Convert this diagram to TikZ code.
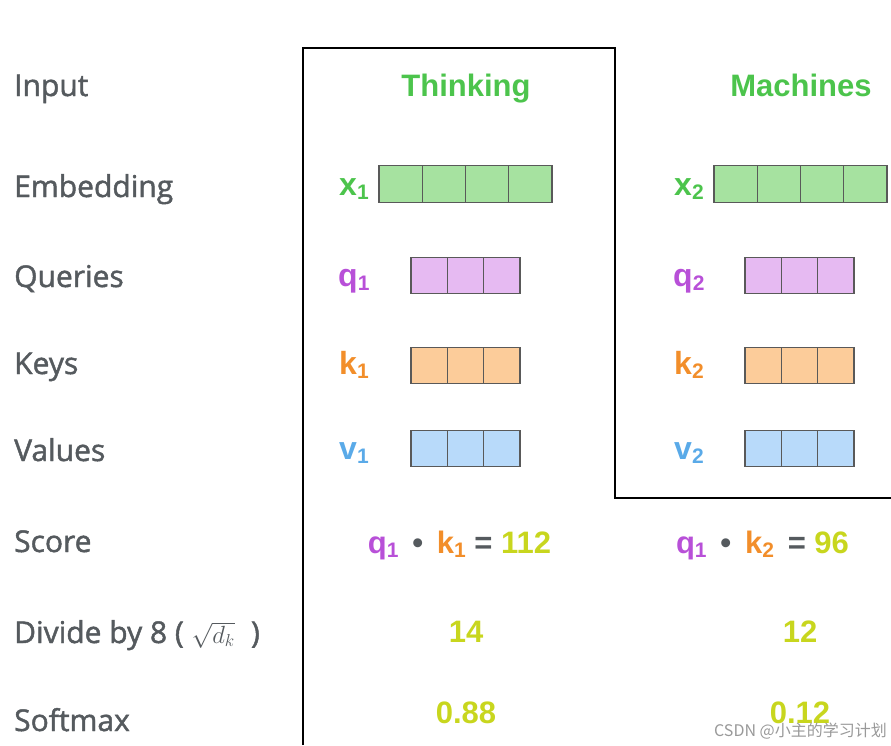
\documentclass[tikz,border=0pt]{standalone}
\usepackage{fontspec}
\setmainfont{Liberation Sans}
\newfontfamily\rowfont[FakeBold=1.5]{Open Sans}
\newfontfamily\cjk{Noto Sans CJK SC}
\usetikzlibrary{positioning}
\definecolor{wordgreen}{RGB}{76,196,76}
\definecolor{cellgreen}{RGB}{166,226,160}
\definecolor{querypurple}{RGB}{184,80,216}
\definecolor{cellpurple}{RGB}{230,186,242}
\definecolor{keyorange}{RGB}{242,142,42}
\definecolor{cellorange}{RGB}{252,204,154}
\definecolor{valueblue}{RGB}{90,170,232}
\definecolor{cellblue}{RGB}{184,218,250}
\definecolor{scoreyellow}{RGB}{200,214,30}
\definecolor{rowgray}{RGB}{85,90,94}
\newcommand{\lowidx}[1]{\raisebox{-0.25ex}{\fontsize{21}{21}\selectfont #1}}
\tikzset{
  rowlabel/.style={
    anchor=base west,
    inner sep=0pt,
    text=rowgray,
    font=\rowfont\fontsize{30}{30}\selectfont
  },
  word/.style={
    anchor=base,
    inner sep=0pt,
    text=wordgreen,
    font=\bfseries\fontsize{31}{31}\selectfont
  },
  vec/.style={
    anchor=base west,
    inner sep=0pt,
    font=\bfseries\fontsize{32}{32}\selectfont
  },
  cell/.style={
    draw=black!65,
    line width=1.2pt,
    inner sep=0pt,
    outer sep=0pt,
    minimum height=36.5pt
  },
  wide/.style={cell,minimum width=43.25pt,fill=cellgreen},
  narrow/.style={cell,minimum width=36.33pt},
  result/.style={
    anchor=base,
    inner sep=0pt,
    text=scoreyellow,
    font=\bfseries\fontsize{31}{31}\selectfont
  },
  frame/.style={draw=black,line width=1.8pt}
}

\begin{document}
\begin{tikzpicture}[x=1pt,y=-1pt]
\useasboundingbox (0,0) rectangle (891,745);
% row names
\node[rowlabel] (lin) at (14,96) {Input};
\node[rowlabel] (lemb) at (14,197) {Embedding};
\node[rowlabel] (lq) at (14,287) {Queries};
\node[rowlabel] (lk) at (14,374) {Keys};
\node[rowlabel] (lv) at (14,461) {Values};
\node[rowlabel] (lsc) at (14,552) {Score};
\node[rowlabel] (ldiv) at (14,643) {Divide by 8 ( {\fontsize{27}{27}\selectfont$\sqrt{d_k}$}\; )};
\node[rowlabel] (lsm) at (14,731) {Softmax};
% frame round the first word
\draw[frame] (303,745) -- (303,48) -- (615,48) -- (615,498) -- (891,498);
% words
\node[word] (w1) at (466,96) {Thinking};
\node[word] (w2) at (801,96) {Machines};
% embeddings
\node[vec,text=wordgreen] (x1) at (339,195) {x\lowidx{1}};
\node[wide] (x1a) at (400.6,184) {};
\foreach \c/\p in {b/a,c/b,d/c} \node[wide,right=0pt of x1\p] (x1\c) {};
\node[vec,text=wordgreen] (x2) at (674,195) {x\lowidx{2}};
\node[wide] (x2a) at (735.6,184) {};
\foreach \c/\p in {b/a,c/b,d/c} \node[wide,right=0pt of x2\p] (x2\c) {};
% queries
\node[vec,text=querypurple] (q1) at (338,286) {q\lowidx{1}};
\node[narrow,fill=cellpurple] (q1a) at (429.2,275.5) {};
\foreach \c/\p in {b/a,c/b} \node[narrow,fill=cellpurple,right=0pt of q1\p] (q1\c) {};
\node[vec,text=querypurple] (q2) at (673,286) {q\lowidx{2}};
\node[narrow,fill=cellpurple] (q2a) at (763.2,275.5) {};
\foreach \c/\p in {b/a,c/b} \node[narrow,fill=cellpurple,right=0pt of q2\p] (q2\c) {};
% keys
\node[vec,text=keyorange] (k1) at (339,374) {k\lowidx{1}};
\node[narrow,fill=cellorange] (k1a) at (429.2,365.5) {};
\foreach \c/\p in {b/a,c/b} \node[narrow,fill=cellorange,right=0pt of k1\p] (k1\c) {};
\node[vec,text=keyorange] (k2) at (674,374) {k\lowidx{2}};
\node[narrow,fill=cellorange] (k2a) at (763.2,365.5) {};
\foreach \c/\p in {b/a,c/b} \node[narrow,fill=cellorange,right=0pt of k2\p] (k2\c) {};
% values
\node[vec,text=valueblue] (v1) at (339,459) {v\lowidx{1}};
\node[narrow,fill=cellblue] (v1a) at (429.2,448.5) {};
\foreach \c/\p in {b/a,c/b} \node[narrow,fill=cellblue,right=0pt of v1\p] (v1\c) {};
\node[vec,text=valueblue] (v2) at (674,459) {v\lowidx{2}};
\node[narrow,fill=cellblue] (v2a) at (763.2,448.5) {};
\foreach \c/\p in {b/a,c/b} \node[narrow,fill=cellblue,right=0pt of v2\p] (v2\c) {};
% score, scaling, softmax
\node[result] (s1) at (459.5,553) {\textcolor{querypurple}{q\lowidx{1}}\, \textcolor{rowgray}{•}\, \textcolor{keyorange}{k\lowidx{1}} \textcolor{rowgray}{=} 112};
\node[result] (s2) at (762.5,553) {\textcolor{querypurple}{q\lowidx{1}}\, \textcolor{rowgray}{•}\, \textcolor{keyorange}{k\lowidx{2}}\, \textcolor{rowgray}{=} 96};
\node[result] (d1) at (466,642) {14};
\node[result] (d2) at (800,642) {12};
\node[result] (p1) at (466,723) {0.88};
\node[result] (p2) at (800,723) {0.12};
\node[anchor=east,inner sep=0pt,text=black!40,font=\cjk\fontsize{16}{16}\selectfont] (mark) at (887,731) {CSDN @小主的学习计划};
\end{tikzpicture}
\end{document}
